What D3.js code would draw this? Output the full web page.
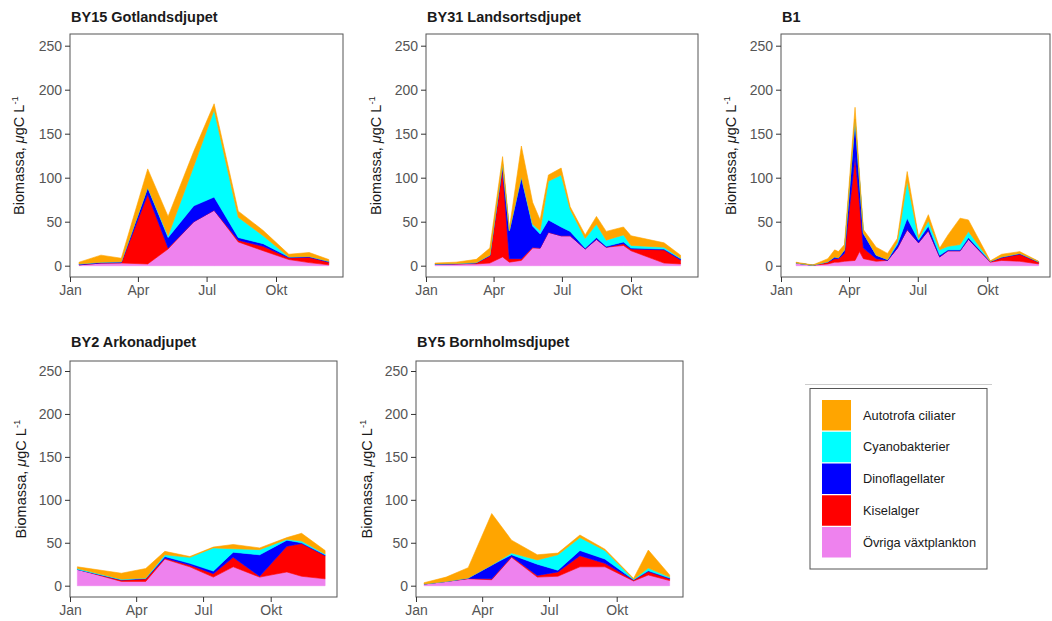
<!DOCTYPE html>
<html>
<head>
<meta charset="utf-8">
<script src="https://cdn.jsdelivr.net/npm/d3@7"></script>
<style>
  body { margin: 0; background: #fff; }
  text { font-family: "Liberation Sans", Arial, Helvetica, sans-serif; }
</style>
</head>
<body>
<svg id="chart" width="1052" height="621"></svg>
<script>
// series, bottom to top of the stack
var seriesNames = ["Övriga växtplankton", "Kiselalger", "Dinoflagellater", "Cyanobakterier", "Autotrofa ciliater"];
var seriesColors = ["#EE82EE", "#FF0000", "#0000FF", "#00FFFF", "#FFA500"];
var legendOrder = ["Autotrofa ciliater", "Cyanobakterier", "Dinoflagellater", "Kiselalger", "Övriga växtplankton"];

var yTicks = [0, 50, 100, 150, 200, 250];
var monthTicks = ["01-01", "04-01", "07-01", "10-01"];
var monthLabels = ["Jan", "Apr", "Jul", "Okt"];

// BY15 Gotlandsdjupet
var by15Dates  = ["01-13","02-11","03-10","04-14","05-11","06-14","07-11","08-12","09-14","10-18","11-14","12-10"];
var by15Ovriga = [1, 3, 3, 2, 19, 50, 63, 27, 17, 7, 3.5, 1];
var by15Kisel  = [0, 0, 0.5, 79, 1, 0, 0, 2, 5, 2, 6, 3];
var by15Dino   = [1, 1, 1, 8, 12, 18, 15, 3, 3, 1, 1, 1];
var by15Cyano  = [0, 0, 0, 0, 2, 45, 99, 23, 9, 0, 0, 0];
var by15Cil    = [2, 8, 4, 21, 22, 17, 7, 7, 6, 3, 4.5, 2];

// BY31 Landsortsdjupet
var by31Dates  = ["01-13","02-10","03-09","03-27","04-13","04-22","05-08","05-23","06-02","06-13","06-30","07-12","08-01","08-16","08-29","09-21","10-01","11-14","12-06"];
var by31Ovriga = [1.5, 2, 2, 3, 10, 4, 6, 20, 20, 38, 34, 34, 19, 30, 21, 23, 17, 3, 2];
var by31Kisel  = [0, 0, 1, 8, 100, 4, 2, 1, 0, 0, 0, 0, 0, 0, 0, 2, 2, 15, 4.5];
var by31Dino   = [0.5, 0.5, 0.5, 1, 5, 32, 93, 24, 16, 14, 10, 5, 1, 2, 1, 2, 1, 1, 1.5];
var by31Cyano  = [0, 0, 0, 0, 0, 0, 0, 2, 4, 44, 59, 25, 11, 15, 7, 8, 3, 2, 0.5];
var by31Cil    = [1, 1.5, 3.7, 8, 9, 2, 35, 25, 12, 7, 8, 3, 4, 9, 10, 9, 11, 5, 3.5];

// B1
var b1Dates  = ["01-21","02-12","03-04","03-13","03-18","03-26","04-09","04-15","04-20","05-07","05-22","06-04","06-17","07-02","07-15","07-30","08-10","08-26","09-06","10-05","10-20","11-13","12-08"];
var b1Ovriga = [3, 0.5, 2, 4, 4, 5, 6, 16, 8, 5, 6, 20, 41, 26, 40, 10, 17, 17, 30, 4, 6, 5, 2];
var b1Kisel  = [0, 0, 2, 4, 4, 9, 118, 55, 12, 3, 0, 0, 0, 0, 0, 0, 0, 0, 0, 0.5, 3, 8, 2];
var b1Dino   = [0, 0, 0.5, 2, 1, 4, 42, 25, 17, 4, 1, 4, 13, 3, 5, 2, 1, 1, 2, 0.5, 1, 1, 0.5];
var b1Cyano  = [0, 0, 0, 0, 0, 0, 0, 0, 0, 0, 0, 3, 42, 2, 6, 6, 4, 6, 7, 0, 0, 0, 0];
var b1Cil    = [1, 0.3, 3.5, 8, 7, 6, 14, 6, 4, 9, 7, 4, 11, 2, 7, 2, 13, 30, 13, 0.5, 3, 2, 0.5];

// BY2 Arkonadjupet
var by2Dates  = ["01-11","03-12","04-14","05-10","06-13","07-15","08-11","09-16","10-23","11-12","12-14"];
var by2Ovriga = [19, 5, 5, 31, 22, 10, 22, 10, 16, 11, 8];
var by2Kisel  = [0, 1.5, 3, 1, 2, 4, 11, 1, 30, 38, 27];
var by2Dino   = [0, 0.5, 0.5, 2, 2, 3, 6, 25, 7, 1, 1];
var by2Cyano  = [1, 0.5, 0.5, 2, 7, 27, 4, 6, 1, 2, 1];
var by2Cil    = [2, 7, 11, 4, 1, 1, 5, 2, 2, 9, 4];

// BY5 Bornholmsdjupet
var by5Dates  = ["01-12","02-11","03-13","04-14","05-11","06-15","07-13","08-12","09-15","10-24","11-13","12-12"];
var by5Ovriga = [2, 5, 8, 7, 33, 10, 11, 22, 22, 5.5, 12.5, 6];
var by5Kisel  = [0, 0, 0.5, 1, 1, 2, 5, 13, 4, 1, 4, 2];
var by5Dino   = [0, 0, 0.5, 16, 2, 13, 2, 6, 5, 0.5, 1, 1];
var by5Cyano  = [0, 0, 0, 0, 2, 5, 18, 15, 10, 0.5, 3, 1];
var by5Cil    = [1.5, 5, 12, 60, 15, 6, 2, 3, 1.5, 1, 21, 2.5];

var stations = [
  { title: "BY15 Gotlandsdjupet", dates: by15Dates, values: [by15Ovriga, by15Kisel, by15Dino, by15Cyano, by15Cil] },
  { title: "BY31 Landsortsdjupet", dates: by31Dates, values: [by31Ovriga, by31Kisel, by31Dino, by31Cyano, by31Cil] },
  { title: "B1", dates: b1Dates, values: [b1Ovriga, b1Kisel, b1Dino, b1Cyano, b1Cil] },
  { title: "BY2 Arkonadjupet", dates: by2Dates, values: [by2Ovriga, by2Kisel, by2Dino, by2Cyano, by2Cil] },
  { title: "BY5 Bornholmsdjupet", dates: by5Dates, values: [by5Ovriga, by5Kisel, by5Dino, by5Cyano, by5Cil] }
];

// panel placement: box edges, where Jan 1 / Oct 1 fall, where 0 / 250 fall
var panels = [
  { left: 70,  right: 343,  top: 34,  bottom: 277, jan: 70,  okt: 276,   y0: 265.7, y250: 45.7, labX: 19,  titleY: 22 },
  { left: 426, right: 698,  top: 34,  bottom: 277, jan: 426, okt: 631,   y0: 265.7, y250: 45.7, labX: 376, titleY: 22 },
  { left: 781, right: 1050, top: 34,  bottom: 277, jan: 781, okt: 987.3, y0: 265.7, y250: 45.7, labX: 731, titleY: 22 },
  { left: 70,  right: 337,  top: 361, bottom: 597, jan: 70,  okt: 270.7, y0: 585.7, y250: 371,  labX: 21,  titleY: 347 },
  { left: 416, right: 683,  top: 361, bottom: 597, jan: 416, okt: 616.7, y0: 585.7, y250: 371,  labX: 367, titleY: 347 }
];

var parseDay = d3.timeParse("%Y-%m-%d");
function day(s) { return parseDay("2021-" + s); }

var svg = d3.select("#chart");

stations.forEach(function (st, i) {
  var p = panels[i];
  var x = d3.scaleTime().domain([day("01-01"), day("10-01")]).range([p.jan, p.okt]);
  var y = d3.scaleLinear().domain([0, 250]).range([p.y0, p.y250]);

  var rows = st.dates.map(function (d, j) {
    var r = { date: day(d) };
    seriesNames.forEach(function (n, k) { r[n] = st.values[k][j]; });
    return r;
  });
  var stacked = d3.stack().keys(seriesNames)(rows);

  var g = svg.append("g");

  svg.append("clipPath").attr("id", "clip" + i)
    .append("rect").attr("x", p.left).attr("y", p.top)
    .attr("width", p.right - p.left).attr("height", p.bottom - p.top);

  var area = d3.area()
    .x(function (d) { return x(d.data.date); })
    .y0(function (d) { return y(d[0]); })
    .y1(function (d) { return y(d[1]); });

  g.append("g").attr("clip-path", "url(#clip" + i + ")")
    .selectAll("path").data(stacked).enter().append("path")
    .attr("d", area)
    .attr("fill", function (d, k) { return seriesColors[k]; })
    .attr("stroke", function (d, k) { return seriesColors[k]; })
    .attr("stroke-width", 0.6);

  // panel border
  g.append("rect")
    .attr("x", p.left).attr("y", p.top)
    .attr("width", p.right - p.left).attr("height", p.bottom - p.top)
    .attr("fill", "none").attr("stroke", "#555").attr("stroke-width", 1);

  // y axis
  var yAxis = d3.axisLeft(y).tickValues(yTicks).tickSize(5).tickPadding(3);
  var ya = g.append("g").attr("transform", "translate(" + p.left + ",0)").call(yAxis);
  ya.select(".domain").remove();
  ya.selectAll("line").attr("stroke", "#333");
  ya.selectAll("text").attr("fill", "#555").style("font-size", "14px")
    .style("font-family", "'Liberation Sans', Arial, sans-serif");

  // x axis
  var xAxis = d3.axisBottom(x).tickValues(monthTicks.map(day))
    .tickFormat(function (d, k) { return monthLabels[k]; })
    .tickSize(5).tickPadding(3);
  var xa = g.append("g").attr("transform", "translate(0," + p.bottom + ")").call(xAxis);
  xa.select(".domain").remove();
  xa.selectAll("line").attr("stroke", "#333");
  xa.selectAll("text").attr("fill", "#555").style("font-size", "14px")
    .style("font-family", "'Liberation Sans', Arial, sans-serif");

  // title
  g.append("text")
    .attr("x", p.left + 1).attr("y", p.titleY)
    .attr("font-weight", "bold").attr("font-size", 14.5).attr("fill", "#1a1a1a")
    .text(st.title);

  // y axis title
  var cy = (p.top + p.bottom) / 2;
  var lab = g.append("text")
    .attr("transform", "translate(" + (p.labX + 5) + "," + cy + ") rotate(-90)")
    .attr("text-anchor", "middle").attr("font-size", 14.5).attr("fill", "#1a1a1a");
  lab.append("tspan").text("Biomassa, ");
  lab.append("tspan").attr("font-style", "italic").text("μ");
  lab.append("tspan").text("gC L");
  lab.append("tspan").attr("font-size", 9.5).attr("dy", -6).text("-1");
});

// legend
var lg = svg.append("g");
lg.append("line").attr("x1", 805).attr("x2", 992).attr("y1", 384.5).attr("y2", 384.5)
  .attr("stroke", "#ccc").attr("stroke-width", 1);
lg.append("rect").attr("x", 810).attr("y", 388.5).attr("width", 177).attr("height", 180.5)
  .attr("fill", "#fff").attr("stroke", "#555").attr("stroke-width", 1);

var keyY = d3.scaleBand().domain(legendOrder).range([400, 557.5]).paddingInner(0.04);
lg.selectAll("rect.key").data(legendOrder).enter().append("rect")
  .attr("class", "key")
  .attr("x", 822).attr("width", 29)
  .attr("y", function (d) { return keyY(d); })
  .attr("height", keyY.bandwidth())
  .attr("fill", function (d) { return seriesColors[seriesNames.indexOf(d)]; });
lg.selectAll("text.lab").data(legendOrder).enter().append("text")
  .attr("class", "lab")
  .attr("x", 863)
  .attr("y", function (d) { return keyY(d) + keyY.bandwidth() / 2 + 4.5; })
  .attr("font-size", 12.8).attr("fill", "#1a1a1a")
  .text(function (d) { return d; });
</script>
</body>
</html>
